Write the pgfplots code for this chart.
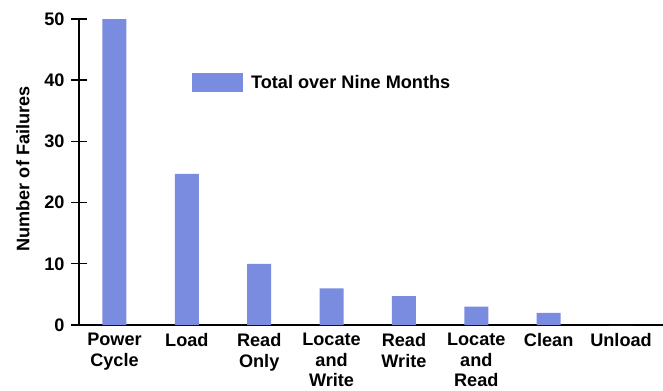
\documentclass[border=0pt]{standalone}
\usepackage{fontspec}
\setmainfont{Liberation Sans}
\usepackage{pgfplots}
\pgfplotsset{compat=1.18}
\definecolor{barblue}{RGB}{122,140,224}
\newcommand{\lbl}{\fontsize{18.2}{20.5}\selectfont\bfseries}
\begin{document}
\begin{tikzpicture}
\begin{axis}[
  name=ax,
  scale only axis, width=584bp, height=306bp,
  xmin=-0.49, xmax=7.58, ymin=0, ymax=50,
  axis x line*=bottom, axis y line=none,
  axis line style={-, line width=1.4bp, black},
  xtick={0,...,7},
  xticklabels={{Power\\Cycle},Load,{Read\\Only},{Locate\\and\\Write},{Read\\Write},{Locate\\and\\Read},Clean,Unload},
  xticklabel style={align=center, font=\lbl, anchor=north, yshift=-5bp},
  major tick length=0pt,
  ytick=\empty,
  legend style={at={(axis cs:1.07,39.6)}, anchor=west, draw=none, fill=none, font=\lbl, inner sep=0pt},
  legend image code/.code={\fill[barblue] (0bp,-9.5bp) rectangle (51bp,9.5bp);},
  legend style={/tikz/every even column/.append style={column sep=0bp}},
]
\addplot[ybar, bar width=24bp, fill=barblue, draw=none] coordinates {
  (0,50) (1,24.7) (2,10) (3,6) (4,4.7) (5,3) (6,2) (7,0)
};
\addlegendentry{\hspace{6bp}Total over Nine Months}
\end{axis}
\begin{axis}[
  scale only axis, width=584bp, height=306bp,
  xmin=-0.49, xmax=7.58, ymin=0, ymax=50,
  clip=false,
  axis x line=none, axis y line*=left,
  axis line style={-, line width=1.4bp, black},
  xtick=\empty,
  ytick={0,10,20,30,40,50},
  major tick length=0pt,
  yticklabel style={font=\lbl, anchor=east, xshift=-11bp},
  /pgf/number format/assume math mode=true,
  ylabel={Number of Failures},
  ylabel style={font=\lbl, at={(axis description cs:-0.0959,0.51)}, anchor=center},
]
\pgfplotsinvokeforeach{0,10,20,30,40,50}{
  \draw[black, line width=1.4bp] ([xshift=-7.5bp]axis cs:-0.49,#1) -- ([xshift=7.5bp]axis cs:-0.49,#1);
}
\end{axis}
\pgfresetboundingbox
\path ([shift={(-79bp,-66bp)}]ax.south west) rectangle ([shift={(0bp,19bp)}]ax.north east);
\end{tikzpicture}
\end{document}
